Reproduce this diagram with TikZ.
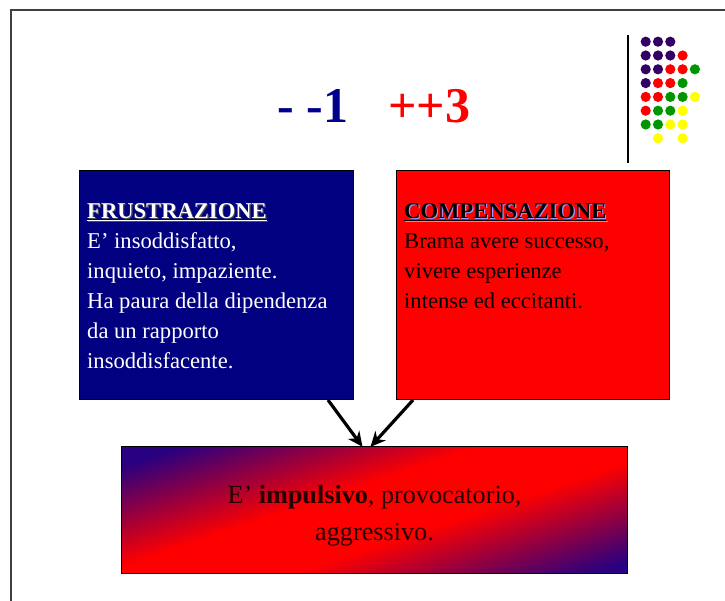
\documentclass[tikz,border=0pt]{standalone}
\usepackage{fontspec}
\setmainfont{Liberation Serif}
\usepackage{tikz}
\usetikzlibrary{arrows.meta,positioning,calc}
\definecolor{boxnavy}{RGB}{0,0,128}
\definecolor{titleblue}{RGB}{0,0,140}
\definecolor{gradblue}{RGB}{40,0,128}
\definecolor{dotp}{RGB}{51,0,102}
\definecolor{dotr}{RGB}{255,0,0}
\definecolor{dotg}{RGB}{0,150,0}
\definecolor{doty}{RGB}{255,255,0}
\newcommand{\ombra}[2]{\rlap{\kern1.2pt\raisebox{-1.2pt}{\color{#1}#2}}#2}
\pgfdeclareverticalshading{fascia}{100bp}{color(0bp)=(gradblue); color(29bp)=(gradblue);
  color(45bp)=(red); color(55bp)=(red); color(71bp)=(gradblue); color(100bp)=(gradblue)}

\begin{document}
\begin{tikzpicture}[
  x=1pt, y=-1pt,
  box/.style={draw=black, line width=1pt, anchor=north west, inner sep=0pt},
  txt/.style={anchor=north west, inner sep=0pt, align=left,
              font=\fontsize{22.6}{30}\selectfont},
  arr/.style={-{Stealth[length=15pt,width=14pt]}, line width=3.2pt, black}
]
\useasboundingbox (0,0) rectangle (725,601);

% Frame
\draw[line width=2pt, black!75] (725,10) -- (11,10) -- (11,601);

% Logo
\draw[line width=2pt, black] (627.5,35) -- (627.5,163);
\foreach \dcol/\dlist in {dotp/{0/0,1/0,2/0,0/1,1/1,2/1,0/2,1/2,0/3},
                          dotr/{3/1,2/2,3/2,1/3,2/3,0/4,1/4,0/5},
                          dotg/{4/2,3/3,2/4,3/4,1/5,2/5,0/6,1/6},
                          doty/{4/4,3/5,2/6,3/6,1/7,3/7}}{
  \foreach \c/\r in \dlist
    \fill[\dcol] ({645.7+12.3*\c},{41.7+13.8*\r}) circle (5.1);
}

% Title
\node[anchor=base west, inner sep=0pt, text=titleblue,
      font=\fontsize{50}{60}\selectfont\bfseries] (meno) at (277,123) {- -1};
\node[anchor=base west, inner sep=0pt, text=red,
      font=\fontsize{50}{60}\selectfont\bfseries] (piu) at (388,123) {++3};

% Boxes
\node[box, fill=boxnavy, minimum width=274pt, minimum height=229pt] (frus) at (79,170) {};
\node[box, fill=red, minimum width=273pt, minimum height=229pt] (comp) at (396,170) {};

\node[txt, text=white] (frustxt) at (87,203)
  {\ombra{black!70}{\underline{\textbf{FRUSTRAZIONE}}}\\
   E’ insoddisfatto,\\inquieto, impaziente.\\Ha paura della dipendenza\\
   da un rapporto\\insoddisfacente.};
\node[txt, text=black] (comptxt) at (404,203)
  {\ombra{white!60!blue}{\underline{\textbf{COMPENSAZIONE}}}\\
   Brama avere successo,\\vivere esperienze\\intense ed eccitanti.};

% Result
\node[anchor=center, inner sep=0pt, minimum width=505pt, minimum height=126pt]
  (res) at (374.5,510) {};
\begin{scope}
  \clip (res.north west) rectangle (res.south east);
  \begin{scope}[transform canvas={rotate around={18.5:($(res.center)+(12,0)$)}}]
    \shade[shading=fascia] ($(res.center)+(-400,-150)$) rectangle ($(res.center)+(424,150)$);
  \end{scope}
\end{scope}
\draw[line width=1pt] (res.north west) rectangle (res.south east);
\node[align=center, inner sep=0pt, text=black!85!red,
      font=\fontsize{26.2}{37}\selectfont] (restxt) at ([yshift=-6pt]res.center)
  {E’ \textbf{impulsivo}, provocatorio,\\aggressivo.};

% Arrows
\draw[arr] ([xshift=-26pt]frus.south east) -- ([xshift=-12pt]res.north);
\draw[arr] ([xshift=17pt]comp.south west) -- ([xshift=-4pt]res.north);
\end{tikzpicture}
\end{document}
